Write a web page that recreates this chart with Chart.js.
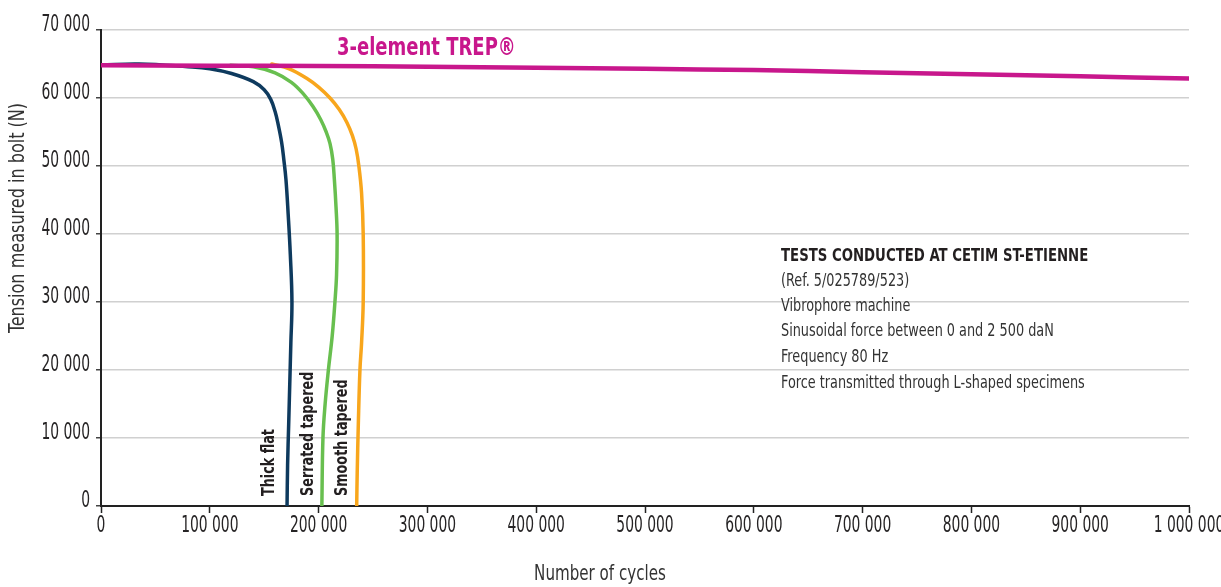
<!DOCTYPE html>
<html>
<head>
<meta charset="utf-8">
<script src="https://cdn.jsdelivr.net/npm/chart.js@4.4.1/dist/chart.umd.min.js"></script>
<style>
html,body{margin:0;padding:0;background:#fff;}
#wrap{width:1221px;height:587px;position:relative;}
</style>
</head>
<body>
<div id="wrap"><canvas id="c" width="1221" height="587"></canvas></div>
<script>
// ---- data (cycles, tension in N) ----
const trepCycles   = [0, 100000, 200000, 300000, 400000, 500000, 600000, 700000, 800000, 900000, 1000000];
const trepTension  = [64800, 64750, 64700, 64600, 64450, 64300, 64100, 63800, 63500, 63200, 62850];

const thickCycles  = [0, 35000, 80000, 100000, 120000, 140000, 150000, 156000, 160000, 163000, 166000, 168000, 170000, 172000, 174000, 175500, 174500, 173500, 172500, 171500, 171000];
const thickTension = [64850, 65000, 64600, 64300, 63600, 62400, 61200, 59800, 58000, 56000, 53500, 51000, 48000, 43000, 37000, 30000, 24000, 18000, 12000, 6000, 0];

const serrCycles   = [119000, 140000, 160000, 175000, 186000, 195000, 202000, 207000, 210500, 213000, 214500, 216000, 217000, 216500, 215000, 212500, 209000, 206000, 204000, 203000];
const serrTension  = [64800, 64600, 63700, 62300, 60600, 58700, 56800, 55000, 53300, 51000, 48000, 44000, 40000, 34000, 30000, 25000, 20000, 15000, 10000, 0];

const smoothCycles = [157000, 173000, 189000, 200000, 210500, 219000, 226000, 231000, 234500, 237000, 239500, 241000, 241000, 239500, 238000, 236500, 235500, 235000];
const smoothTension= [65000, 64300, 62900, 61600, 60000, 58300, 56400, 54500, 52500, 50000, 46000, 40000, 30000, 24000, 20000, 12000, 5000, 0];

const xTicks = [0, 100000, 200000, 300000, 400000, 500000, 600000, 700000, 800000, 900000, 1000000];
const yTicks = [0, 10000, 20000, 30000, 40000, 50000, 60000, 70000];

const seriesLabels = ["3-element TREP®", "Thick flat", "Serrated tapered", "Smooth tapered"];
const labelCycles  = [155000, 191000, 222000]; // positions of rotated names
const xTitle = "Number of cycles";
const yTitle = "Tension measured in bolt (N)";
const noteTitle = "TESTS CONDUCTED AT CETIM ST-ETIENNE";
const noteLines = ["(Ref. 5/025789/523)", "Vibrophore machine", "Sinusoidal force between 0 and 2 500 daN", "Frequency 80 Hz", "Force transmitted through L-shaped specimens"];

const FONT = "'DejaVu Sans Condensed', 'DejaVu Sans', sans-serif";
const fmt = v => String(v).replace(/\B(?=(\d{3})+(?!\d))/g, ' ');
const pts = (xs, ys) => xs.map((x, i) => ({x, y: ys[i]}));

// draws horizontally condensed text
function txt(ctx, s, x, y, align, sx, rot) {
  ctx.save();
  ctx.translate(x, y);
  if (rot) ctx.rotate(rot);
  ctx.scale(sx, 1);
  ctx.textAlign = align;
  ctx.fillText(s, 0, 0);
  ctx.restore();
}

const textPlugin = {
  id: 'texts',
  afterDraw(chart) {
    const ctx = chart.ctx, xs = chart.scales.x, ys = chart.scales.y;
    ctx.save();
    // tick labels (positions from the library scales)
    ctx.fillStyle = '#262425';
    ctx.font = `23px ${FONT}`;
    ctx.textBaseline = 'alphabetic';
    xs.ticks.forEach(t => txt(ctx, fmt(t.value), xs.getPixelForValue(t.value), 532, 'center', 0.67));
    ys.ticks.forEach(t => txt(ctx, fmt(t.value), 90, ys.getPixelForValue(t.value) + 1, 'right', 0.67));
    // axis titles
    ctx.fillStyle = '#333';
    ctx.font = `21px ${FONT}`;
    ctx.textBaseline = 'middle';
    txt(ctx, xTitle, 600, 575, 'center', 0.8);
    txt(ctx, yTitle, 19, 218, 'center', 0.85, -Math.PI / 2);
    // series main label
    ctx.fillStyle = '#c8178c';
    ctx.font = `bold 25px ${FONT}`;
    txt(ctx, seriesLabels[0], 337, 48, 'left', 0.8);
    // rotated labels
    ctx.fillStyle = '#231f20';
    ctx.font = `bold 18px ${FONT}`;
    for (let i = 0; i < 3; i++) {
      txt(ctx, seriesLabels[i + 1], xs.getPixelForValue(labelCycles[i]), ys.getPixelForValue(0) - 10, 'left', 0.79, -Math.PI / 2);
    }
    // note block
    ctx.fillStyle = '#231f20';
    ctx.font = `bold 18px ${FONT}`;
    txt(ctx, noteTitle, 781, 256, 'left', 0.82);
    ctx.fillStyle = '#333';
    ctx.font = `17px ${FONT}`;
    const lineY = [282, 307, 332, 358, 384];
    noteLines.forEach((t, i) => txt(ctx, t, 781, lineY[i], 'left', 0.84));
    ctx.restore();
  }
};

const lineDs = (label, data, color, width, order, tension) => ({
  label, data, borderColor: color, backgroundColor: color, borderWidth: width,
  pointRadius: 0, showLine: true, tension, order, borderCapStyle: 'round', borderJoinStyle: 'round'
});

new Chart(document.getElementById('c'), {
  type: 'scatter',
  data: {
    datasets: [
      lineDs(seriesLabels[0], pts(trepCycles, trepTension), '#c8178c', 4.5, 0, 0.2),
      lineDs(seriesLabels[1], pts(thickCycles, thickTension), '#0e3a5e', 3.5, 1, 0.4),
      lineDs(seriesLabels[2], pts(serrCycles, serrTension), '#68bf4f', 3.5, 1, 0.4),
      lineDs(seriesLabels[3], pts(smoothCycles, smoothTension), '#f8a61c', 3.5, 1, 0.4)
    ]
  },
  options: {
    responsive: false,
    animation: false,
    layout: { padding: { top: 30, right: 32, left: 0, bottom: 0 } },
    plugins: { legend: { display: false }, tooltip: { enabled: false } },
    scales: {
      x: {
        type: 'linear', min: 0, max: 1000000,
        afterBuildTicks: s => { s.ticks = xTicks.map(v => ({value: v})); },
        afterFit: s => { s.height = 81; },
        ticks: { display: false },
        grid: { drawOnChartArea: false, drawTicks: true, tickLength: 7, tickColor: '#222', tickWidth: 1.5 },
        border: { color: '#222', width: 2 }
      },
      y: {
        type: 'linear', min: 0, max: 70000,
        afterBuildTicks: s => { s.ticks = yTicks.map(v => ({value: v})); },
        afterFit: s => { s.width = 101; },
        ticks: { display: false },
        grid: { color: '#d0d0d0', lineWidth: 1.5, drawTicks: true, tickLength: 5, tickColor: '#444' },
        border: { color: '#222', width: 2 }
      }
    }
  },
  plugins: [textPlugin]
});
</script>
</body>
</html>
